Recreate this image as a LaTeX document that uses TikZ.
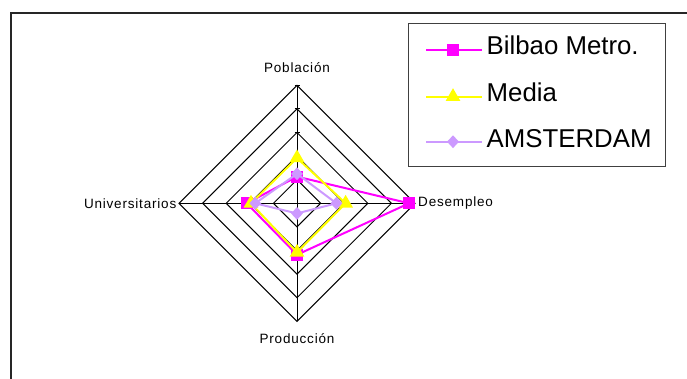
\documentclass[tikz,border=0pt]{standalone}
\usepackage{fontspec}
\setmainfont{Liberation Sans}
\newfontfamily\axfont[LetterSpace=6]{Liberation Sans}
\usetikzlibrary{shapes.geometric}
\definecolor{bmag}{HTML}{FF00FF}
\definecolor{myel}{HTML}{FFFF00}
\definecolor{alav}{HTML}{CC99FF}
\tikzset{
  grid/.style={draw=black,line width=1pt},
  serline/.style={line width=2pt,line join=round},
  sqmark/.style={rectangle,fill=bmag,minimum size=12pt,inner sep=0pt},
  trimark/.style={regular polygon,regular polygon sides=3,fill=myel,minimum size=17pt,inner sep=0pt},
  diamark/.style={diamond,fill=alav,minimum width=12pt,minimum height=13pt,inner sep=0pt},
  axlabel/.style={font=\axfont\fontsize{13.5}{14}\selectfont,inner sep=0pt},
  leglabel/.style={font=\fontsize{25.8}{27}\selectfont,inner sep=0pt,anchor=base west},
}
\begin{document}
\begin{tikzpicture}[x=1pt,y=-1pt]
\useasboundingbox (0,0) rectangle (687,378);
% outer frame
\draw[line width=1.5pt,draw=black!85] (11,400) -- (11,13) -- (700,13);
% grid rings
\def\cx{297}\def\cy{203.3}\def\rr{23.6}
\foreach \k in {1,...,5}{
  \draw[grid] (\cx,{\cy-\rr*\k}) -- ({\cx+\rr*\k},\cy) -- (\cx,{\cy+\rr*\k}) -- ({\cx-\rr*\k},\cy) -- cycle;
}
% axes
\coordinate (aT) at (\cx,{\cy-5*\rr});
\coordinate (aB) at (\cx,{\cy+5*\rr});
\coordinate (aL) at ({\cx-5*\rr},\cy);
\coordinate (aR) at ({\cx+5*\rr},\cy);
\draw[grid] (aT) -- (aB);
\draw[grid] (aL) -- (aR);
\foreach \k in {0,...,5}{
  \draw[grid] ({\cx-2.5},{\cy-\rr*\k}) -- ({\cx+2.5},{\cy-\rr*\k});
}
% axis labels
\node[axlabel] (lP) at (\cx,68) {Población};
\node[axlabel] (lPr) at (\cx,338.5) {Producción};
\node[axlabel,anchor=east] (lU) at (176.5,203.5) {Universitarios};
\node[axlabel,anchor=west] (lD) at (418,203.5) {Desempleo};
% data points
\coordinate (b1) at (\cx,{\cy-1.13*\rr});
\coordinate (b2) at ({\cx+4.75*\rr},\cy);
\coordinate (b3) at (\cx,{\cy+2.18*\rr});
\coordinate (b4) at ({\cx-2.13*\rr},\cy);
\coordinate (m1) at (\cx,{\cy-1.92*\rr});
\coordinate (m2) at ({\cx+2.06*\rr},\cy);
\coordinate (m3) at (\cx,{\cy+2.08*\rr});
\coordinate (m4) at ({\cx-1.95*\rr},\cy);
\coordinate (s1) at (\cx,{\cy-1.25*\rr});
\coordinate (s2) at ({\cx+1.67*\rr},\cy);
\coordinate (s3) at (\cx,{\cy+0.43*\rr});
\coordinate (s4) at ({\cx-1.77*\rr},\cy);
% Bilbao
\draw[serline,bmag] (b1) -- (b2) -- (b3) -- (b4) -- cycle;
\foreach \p in {1,...,4}{ \node[sqmark] (bm\p) at (b\p) {}; }
% Media
\draw[serline,myel] (m1) -- (m2) -- (m3) -- (m4) -- cycle;
\foreach \p in {1,...,4}{ \node[trimark] (mm\p) at (m\p) {}; }
% Amsterdam
\draw[serline,alav] (s1) -- (s2) -- (s3) -- (s4) -- cycle;
\foreach \p in {1,...,4}{ \node[diamark] (sm\p) at (s\p) {}; }
% legend
\draw[line width=1pt,draw=black!75,fill=white] (408.3,23.3) rectangle (665,166.7);
\coordinate (l1a) at (426,50.3); \coordinate (l1b) at (482,50.3);
\coordinate (l2a) at (426,96.7); \coordinate (l2b) at (482,96.7);
\coordinate (l3a) at (426,141.7); \coordinate (l3b) at (482,141.7);
\draw[serline,bmag] (l1a) -- (l1b);
\node[sqmark] (lg1) at (453,50.3) {};
\draw[serline,myel] (l2a) -- (l2b);
\node[trimark] (lg2) at (453,96.7) {};
\draw[serline,alav] (l3a) -- (l3b);
\node[diamark] (lg3) at (453,141.7) {};
\node[leglabel] (lt1) at (486.5,54.5) {Bilbao Metro.};
\node[leglabel] (lt2) at (486.5,101.5) {Media};
\node[leglabel] (lt3) at (486.5,147.5) {AMSTERDAM};
\end{tikzpicture}
\end{document}
